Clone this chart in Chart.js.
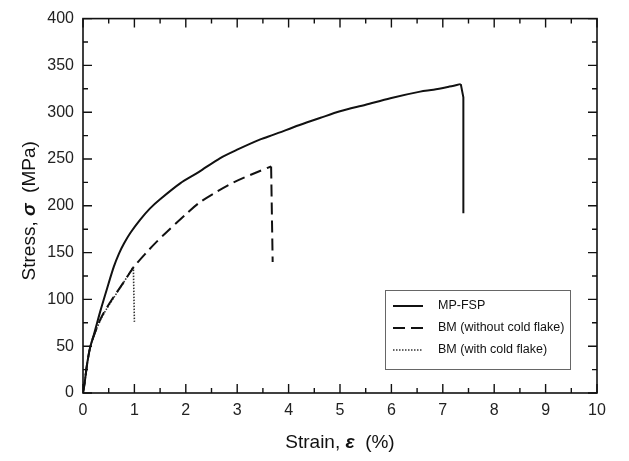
<!DOCTYPE html>
<html>
<head>
<meta charset="utf-8">
<script src="https://cdn.jsdelivr.net/npm/chart.js@4/dist/chart.umd.min.js"></script>
<style>
  html, body { margin: 0; padding: 0; background: #fff; }
  #wrap { width: 629px; height: 461px; }
</style>
</head>
<body>
<div id="wrap"><canvas id="myChart" width="629" height="461"></canvas></div>
<script>
// values (last points = fracture drop)
const strainFSP = [0, 0.03, 0.08, 0.14, 0.21, 0.34, 0.47, 0.6, 0.7, 0.8, 0.92, 1.11, 1.3, 1.5, 1.89, 2.25, 2.67, 3.0, 3.45, 3.71, 4.2, 4.62, 5.0, 5.5, 5.98, 6.56, 6.82, 7.1, 7.35, 7.4, 7.4];
const stressFSP = [0, 10, 31, 49, 62, 88, 112, 135, 149, 160, 171, 185, 197, 207, 224, 236, 251, 260, 271, 276, 286, 294, 301, 308, 315, 322, 324, 327, 330, 316, 192];

const strainBM = [0, 0.03, 0.08, 0.14, 0.21, 0.34, 0.45, 0.6, 0.8, 0.98, 1.25, 1.44, 1.63, 2.02, 2.28, 2.6, 2.93, 3.3, 3.66, 3.69];
const stressBM = [0, 10, 31, 49, 61, 79, 90, 103, 119, 134, 151, 162, 172, 192, 204, 215, 225, 234, 242, 140];

const strainBMcf = [0, 0.03, 0.08, 0.14, 0.21, 0.34, 0.45, 0.6, 0.8, 0.98, 1.0];
const stressBMcf = [0, 10, 31, 49, 61, 78, 89, 102, 119, 135, 76];

const seriesLabels = ['MP-FSP', 'BM (without cold flake)', 'BM (with cold flake)'];

function toPoints(xs, ys) {
  return xs.map((x, i) => ({ x: x, y: ys[i] }));
}

const FONT = '"Liberation Sans", Arial, Helvetica, sans-serif';

// frame, inward ticks on all four sides, axis titles and legend box
const framePlugin = {
  id: 'frame',
  afterDraw(chart) {
    const c = chart.ctx;
    const a = chart.chartArea;
    const xs = chart.scales.x, ys = chart.scales.y;
    c.save();
    c.strokeStyle = '#111';
    c.lineWidth = 1.6;
    c.strokeRect(a.left, a.top, a.right - a.left, a.bottom - a.top);

    c.lineWidth = 1.4;
    const major = 9, minor = 5;
    const xt = xs.ticks.map(t => t.value);
    xt.forEach((v, i) => {
      const px = xs.getPixelForValue(v);
      c.beginPath();
      c.moveTo(px, a.bottom); c.lineTo(px, a.bottom - major);
      c.moveTo(px, a.top); c.lineTo(px, a.top + major);
      if (i < xt.length - 1) {
        const m = xs.getPixelForValue((v + xt[i + 1]) / 2);
        c.moveTo(m, a.bottom); c.lineTo(m, a.bottom - minor);
        c.moveTo(m, a.top); c.lineTo(m, a.top + minor);
      }
      c.stroke();
    });
    const yt = ys.ticks.map(t => t.value);
    yt.forEach((v, i) => {
      const py = ys.getPixelForValue(v);
      c.beginPath();
      c.moveTo(a.left, py); c.lineTo(a.left + major, py);
      c.moveTo(a.right, py); c.lineTo(a.right - major, py);
      if (i < yt.length - 1) {
        const m = ys.getPixelForValue((v + yt[i + 1]) / 2);
        c.moveTo(a.left, m); c.lineTo(a.left + minor, m);
        c.moveTo(a.right, m); c.lineTo(a.right - minor, m);
      }
      c.stroke();
    });

    // axis titles, greek letter in italic
    c.fillStyle = '#111';
    c.textBaseline = 'middle';
    function drawParts(parts, cx, cy) {
      let w = 0;
      parts.forEach(p => { c.font = p[1]; w += c.measureText(p[0]).width; });
      let x = cx - w / 2;
      c.textAlign = 'left';
      parts.forEach(p => {
        c.font = p[1];
        c.fillText(p[0], x, cy);
        x += c.measureText(p[0]).width;
      });
    }
    const reg = '19px ' + FONT, ita = 'italic bold 19px ' + FONT;
    drawParts([['Strain, ', reg], ['\u03b5', ita], ['  (%)', reg]], (a.left + a.right) / 2, 443);
    c.save();
    c.translate(30, (a.top + a.bottom) / 2 + 5);
    c.rotate(-Math.PI / 2);
    drawParts([['Stress, ', reg], ['\u03c3', ita], ['  (MPa)', reg]], 0, 0);
    c.restore();

    // legend box (only the main curves, not the drop segments)
    const bx = 385, by = 290, bw = 185, bh = 79;
    c.fillStyle = '#fff';
    c.fillRect(bx, by, bw, bh);
    c.strokeStyle = '#666';
    c.lineWidth = 1;
    c.strokeRect(bx + 0.5, by + 0.5, bw, bh);
    c.font = '12.5px ' + FONT;
    c.textAlign = 'left';
    chart.data.datasets.filter(ds => !ds.legendSkip).forEach((ds, i) => {
      const ry = by + 16 + i * 22;
      c.strokeStyle = ds.borderColor;
      c.lineWidth = ds.borderWidth;
      c.setLineDash(ds.borderDash || []);
      c.beginPath();
      c.moveTo(bx + 8, ry); c.lineTo(bx + 38, ry);
      c.stroke();
      c.setLineDash([]);
      c.fillStyle = '#111';
      c.fillText(ds.label, bx + 53, ry);
    });
    c.restore();
  }
};

// smooth curve up to the peak, straight drop after it
function curveAndDrop(label, xs, ys, nDrop, style) {
  const cut = xs.length - nDrop;
  return [
    Object.assign({
      label: label,
      data: toPoints(xs.slice(0, cut), ys.slice(0, cut)),
      pointRadius: 0,
      tension: 0.3,
      fill: false,
    }, style),
    Object.assign({
      label: label + ' drop',
      legendSkip: true,
      data: toPoints(xs.slice(cut - 1), ys.slice(cut - 1)),
      pointRadius: 0,
      tension: 0,
      fill: false,
    }, style),
  ];
}

const ctx = document.getElementById('myChart').getContext('2d');

const myChart = new Chart(ctx, {
  type: 'line',
  data: {
    datasets: [
      ...curveAndDrop(seriesLabels[0], strainFSP, stressFSP, 2, { borderColor: '#111', borderWidth: 2 }),
      ...curveAndDrop(seriesLabels[1], strainBM, stressBM, 1, { borderColor: '#111', borderWidth: 2, borderDash: [12, 6] }),
      ...curveAndDrop(seriesLabels[2], strainBMcf, stressBMcf, 1, { borderColor: '#333', borderWidth: 1.6, borderDash: [1.5, 1.5] }),
    ],
  },
  options: {
    responsive: false,
    animation: false,
    layout: { padding: { top: 14, right: 32, left: 0, bottom: 0 } },
    scales: {
      x: {
        type: 'linear',
        min: 0,
        max: 10,
        ticks: { stepSize: 1, color: '#222', font: { family: FONT, size: 16 }, padding: 8 },
        grid: { display: false, drawTicks: false },
        border: { display: false },
        afterFit(scale) { scale.height = 68; },
      },
      y: {
        type: 'linear',
        min: 0,
        max: 400,
        ticks: { stepSize: 50, color: '#222', font: { family: FONT, size: 16 }, padding: 9 },
        grid: { display: false, drawTicks: false },
        border: { display: false },
        afterFit(scale) { scale.width = 83; },
      },
    },
    plugins: {
      legend: { display: false },
      tooltip: { enabled: false },
    },
  },
  plugins: [framePlugin],
});
</script>
</body>
</html>
